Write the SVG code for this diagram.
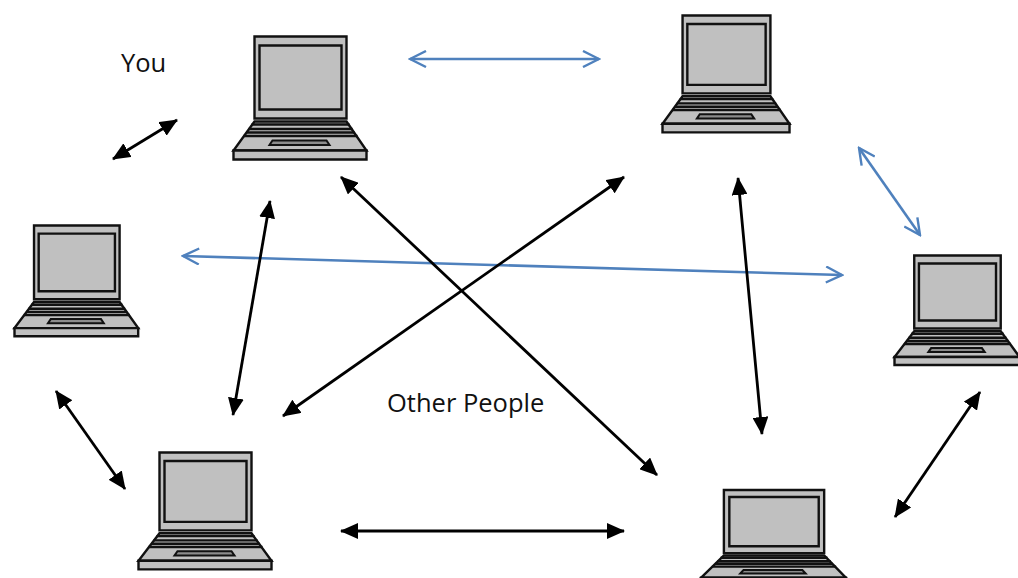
<svg xmlns="http://www.w3.org/2000/svg" width="1018" height="578" viewBox="0 0 1018 578">
<style>
.s{fill:#c0c0c0;stroke:#111;stroke-width:2.4;vector-effect:non-scaling-stroke}
.k{fill:none;stroke:#111;stroke-width:2.4;vector-effect:non-scaling-stroke}
.p{fill:#8c8c8c;stroke:#111;stroke-width:2;vector-effect:non-scaling-stroke}
.t{font-family:"Open Sans","Liberation Sans",sans-serif;font-size:25.5px;fill:#111}
.b{fill:none;stroke:#000;stroke-width:2.8;marker-start:url(#hb);marker-end:url(#hb)}
.u{fill:none;stroke:#4f81bd;stroke-width:2.6;marker-start:url(#hu);marker-end:url(#hu)}
</style>
<defs>
<marker id="hb" viewBox="0 0 18 16" refX="17" refY="8" markerWidth="18" markerHeight="16" markerUnits="userSpaceOnUse" orient="auto-start-reverse"><path d="M0 0L18 8L0 16Z" fill="#000"/></marker>
<marker id="hu" viewBox="0 0 20 18" refX="18" refY="9" markerWidth="20" markerHeight="18" markerUnits="userSpaceOnUse" orient="auto-start-reverse"><path d="M2 1L18 9L2 17" fill="none" stroke="#4f81bd" stroke-width="2.4"/></marker>
<g id="laptop">
<rect class="s" x="21" y="0" width="92" height="82"/>
<rect class="s" x="26" y="9" width="82" height="64"/>
<path class="s" d="M21 85H113L133 114H0Z"/>
<path class="k" d="M18 88H116M15 92.500H119M13 96H121M10 99.500H124"/>
<path class="p" d="M39 104H93L96 108.500H36Z"/>
<rect class="s" x="0" y="114" width="133" height="9"/>
</g>
</defs>
<g id="laptop-you"><use href="#laptop" transform="translate(233.5 36.500)"/></g>
<g id="laptop-top-right"><use href="#laptop" transform="translate(662.5 15.500) scale(.955 .95)"/></g>
<g id="laptop-left"><use href="#laptop" transform="translate(14.500 225.500) scale(.93 .9)"/></g>
<g id="laptop-right"><use href="#laptop" transform="translate(894.500 255.500) scale(.94 .89)"/></g>
<g id="laptop-bottom-left"><use href="#laptop" transform="translate(138.500 452.500) scale(1 .95)"/></g>
<g id="laptop-bottom-right"><use href="#laptop" transform="translate(701 490) scale(1.09 .77)"/></g>
<g id="connectors">
<path class="b" d="M113 159L177 120"/>
<path class="u" d="M410 59H599"/>
<path class="u" d="M859 148L920 235"/>
<path class="u" d="M183 256L842 275"/>
<path class="b" d="M270 201L233 415"/>
<path class="b" d="M341 177L657 475"/>
<path class="b" d="M624 177L283 416"/>
<path class="b" d="M738 178L762 434"/>
<path class="b" d="M56 391L125 489"/>
<path class="b" d="M341 531H624"/>
<path class="b" d="M980 392L895 517"/>
</g>
<text class="t" x="121" y="72">You</text>
<text class="t" x="387" y="412">Other People</text>
</svg>
